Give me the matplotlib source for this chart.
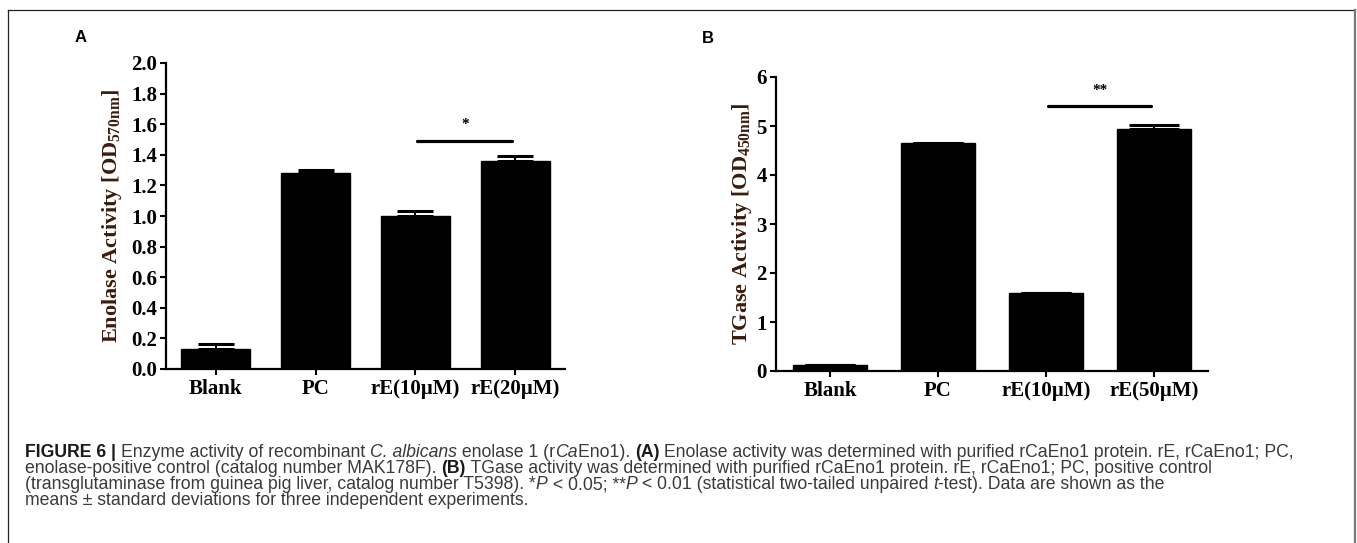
import matplotlib
matplotlib.use('Agg')
import matplotlib.pyplot as plt
from matplotlib.lines import Line2D

# ---------------- data ----------------
categories_a = ['Blank', 'PC', 'rE(10µM)', 'rE(20µM)']
means_a = [0.13, 1.28, 1.00, 1.36]
errs_a = [0.036, 0.022, 0.035, 0.035]
yticks_a = [0.0, 0.2, 0.4, 0.6, 0.8, 1.0, 1.2, 1.4, 1.6, 1.8, 2.0]
ylabel_a = 'Enolase Activity [OD$_{\\mathrm{570nm}}$]'
sig_a_pair = [2, 3]
sig_a_level = 1.49
sig_a_mark = '*'

categories_b = ['Blank', 'PC', 'rE(10µM)', 'rE(50µM)']
means_b = [0.12, 4.65, 1.59, 4.94]
errs_b = [0.0, 0.0, 0.0, 0.08]
yticks_b = [0, 1, 2, 3, 4, 5, 6]
ylabel_b = 'TGase Activity [OD$_{\\mathrm{450nm}}$]'
sig_b_pair = [2, 3]
sig_b_level = 5.41
sig_b_mark = '**'

caption_lines = [
    [("FIGURE 6 | ", 'bold', 'normal'), ("Enzyme activity of recombinant ", 'normal', 'normal'),
     ("C. albicans", 'normal', 'italic'), (" enolase 1 (r", 'normal', 'normal'), ("Ca", 'normal', 'italic'),
     ("Eno1). ", 'normal', 'normal'), ("(A)", 'bold', 'normal'),
     (" Enolase activity was determined with purified rCaEno1 protein. rE, rCaEno1; PC,", 'normal', 'normal')],
    [("enolase-positive control (catalog number MAK178F). ", 'normal', 'normal'), ("(B)", 'bold', 'normal'),
     (" TGase activity was determined with purified rCaEno1 protein. rE, rCaEno1; PC, positive control", 'normal', 'normal')],
    [("(transglutaminase from guinea pig liver, catalog number T5398). *", 'normal', 'normal'), ("P", 'normal', 'italic'),
     (" < 0.05; **", 'normal', 'normal'), ("P", 'normal', 'italic'),
     (" < 0.01 (statistical two-tailed unpaired ", 'normal', 'normal'), ("t", 'normal', 'italic'),
     ("-test). Data are shown as the", 'normal', 'normal')],
    [("means ± standard deviations for three independent experiments.", 'normal', 'normal')],
]

# ---------------- style ----------------
W, H = 1357, 543
plt.rcParams['mathtext.fontset'] = 'custom'
plt.rcParams['mathtext.rm'] = 'Liberation Serif:bold'
plt.rcParams['mathtext.bf'] = 'Liberation Serif:bold'
plt.rcParams['mathtext.it'] = 'Liberation Serif:bold:italic'

serif = 'Liberation Serif'
cap_font = 'Liberation Sans'

fig = plt.figure(figsize=(W / 100, H / 100), dpi=100)


def px_rect(l, r, t, b):
    return [l / W, 1 - b / H, (r - l) / W, (b - t) / H]


label_color = '#3a1c0c'


def draw_panel(rect, cats, means, errs, yticks, fmt, ylabel, ylab_x, pair, level, mark, mark_y,
               capsize, bw):
    ax = fig.add_axes(rect)
    x = list(range(len(cats)))
    ax.bar(x, means, width=bw, color='black', edgecolor='black', linewidth=1.0, zorder=2)
    ax.errorbar(x, means, yerr=[[0] * len(errs), errs], fmt='none', ecolor='black',
                elinewidth=1.5, capsize=capsize, capthick=2.2, zorder=3)
    ax.set_xlim(-0.5, len(cats) - 0.5)
    ax.set_ylim(yticks[0], yticks[-1])
    ax.set_yticks(yticks)
    ax.set_yticklabels([fmt.format(v) for v in yticks])
    ax.set_xticks(x)
    ax.set_xticklabels(cats)
    for lab in ax.get_xticklabels() + ax.get_yticklabels():
        lab.set_fontfamily(serif)
        lab.set_fontweight('bold')
        lab.set_fontsize(15)
    ax.tick_params(axis='y', direction='out', length=4.5, width=1.5, pad=2)
    ax.tick_params(axis='x', direction='out', length=4.5, width=1.5, pad=3)
    for s in ['top', 'right']:
        ax.spines[s].set_visible(False)
    for s in ['left', 'bottom']:
        ax.spines[s].set_linewidth(1.6)
    ax.set_ylabel(ylabel, fontfamily=serif, fontweight='bold', fontsize=16, color=label_color)
    ax.yaxis.set_label_coords(ylab_x, 0.5)
    ax.plot([pair[0] + 0.02, pair[1] - 0.03], [level, level], color='black', lw=2.3,
            solid_capstyle='round', zorder=3)
    ax.text((pair[0] + pair[1]) / 2, mark_y, mark, ha='center', va='center',
            fontfamily=serif, fontweight='bold', fontsize=11, color='black')
    ax.set_facecolor('none')
    return ax


draw_panel(px_rect(166, 565, 63, 369), categories_a, means_a, errs_a, yticks_a, '{:.1f}',
           ylabel_a, -0.105, sig_a_pair, sig_a_level, sig_a_mark, 1.60, 13.3, 0.69)
draw_panel(px_rect(776, 1208, 77, 371), categories_b, means_b, errs_b, yticks_b, '{:d}',
           ylabel_b, -0.052, sig_b_pair, sig_b_level, sig_b_mark, 5.72, 18.0, 0.68)

# panel letters
fig.text(81 / W, 1 - 42 / H, 'A', ha='center', va='baseline', fontfamily='Liberation Sans',
         fontweight='bold', fontsize=12, color='black')
fig.text(708 / W, 1 - 43 / H, 'B', ha='center', va='baseline', fontfamily='Liberation Sans',
         fontweight='bold', fontsize=12, color='black')

# frame
fig.add_artist(Line2D([8 / W, 8 / W], [0, 1 - 10 / H], color='#222222', lw=0.9, transform=fig.transFigure))
fig.add_artist(Line2D([8 / W, 1355 / W], [1 - 10 / H, 1 - 10 / H], color='#222222', lw=0.9,
                      transform=fig.transFigure))
fig.add_artist(Line2D([1355 / W, 1355 / W], [0, 1 - 10 / H], color='#777777', lw=1.6, transform=fig.transFigure))

# caption
renderer = fig.canvas.get_renderer()


def seg_width(s, weight, style, size):
    t1 = fig.text(0, 0, s + '|', fontfamily=cap_font, fontweight=weight, fontstyle=style, fontsize=size)
    t2 = fig.text(0, 0, '|', fontfamily=cap_font, fontweight=weight, fontstyle=style, fontsize=size)
    w = t1.get_window_extent(renderer).width - t2.get_window_extent(renderer).width
    t1.remove()
    t2.remove()
    return w


target_w = 1319 - 25
base = 10.0
w0 = sum(seg_width(s, wt, st, base) for s, wt, st in caption_lines[0])
cap_size = 0.985 * base * target_w / w0

baselines = [457, 473, 489, 505]
for line, yb in zip(caption_lines, baselines):
    xpos = 25.0
    for s, wt, st in line:
        col = '#1a1a1a' if wt == 'bold' else '#3a3a3a'
        fig.text(xpos / W, 1 - yb / H, s, ha='left', va='baseline', fontfamily=cap_font,
                 fontweight=wt, fontstyle=st, fontsize=cap_size, color=col)
        xpos += seg_width(s, wt, st, cap_size)

fig.savefig('out.png', dpi=100)
